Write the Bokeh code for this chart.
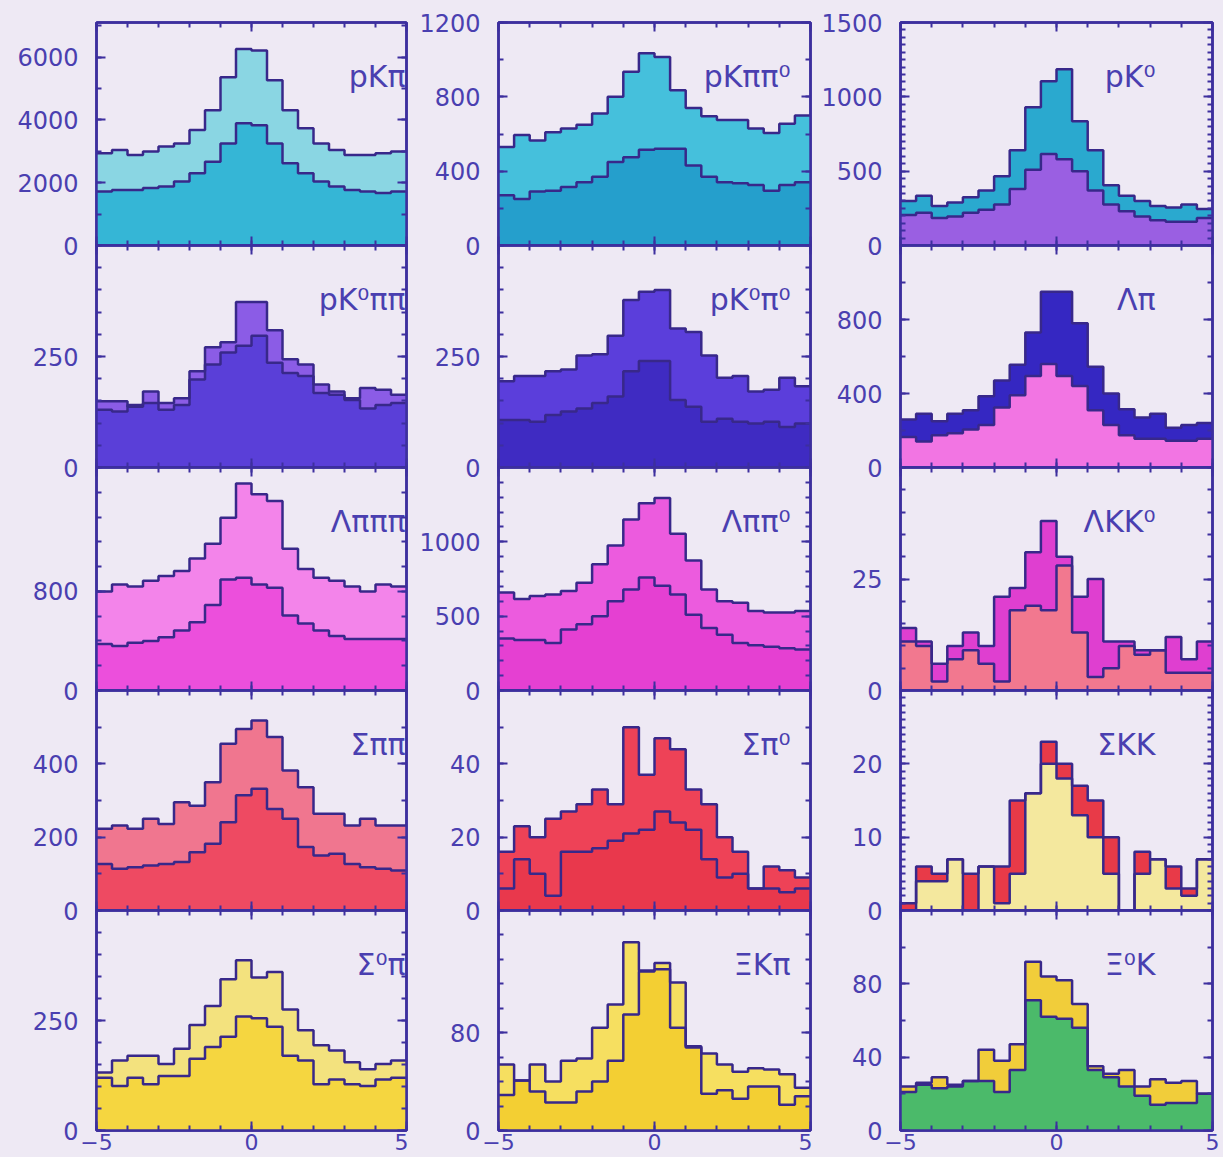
import numpy as np
from bokeh.plotting import figure
from bokeh.layouts import row, column
from bokeh.models import Range1d, LinearAxis, FixedTicker
from bokeh.core.properties import value
from bokeh.embed import file_html
from bokeh.resources import INLINE

# ---------------- data ----------------
bin_edges = np.linspace(-5, 5, 21)
x_major = [-5, 0, 5]
x_minor = list(range(-5, 6))

labels = [["pKπ", "pKππ⁰", "pK⁰"],
          ["pK⁰ππ", "pK⁰π⁰", "Λπ"],
          ["Λπππ", "Λππ⁰", "ΛKK⁰"],
          ["Σππ", "Σπ⁰", "ΣKK"],
          ["Σ⁰π", "ΞKπ", "Ξ⁰K"]]

pkpi_total = [2940, 3040, 2880, 2990, 3150, 3250, 3680, 4310, 5360, 6260, 6210, 5260, 4310, 3730, 3250, 3040, 2880, 2880, 2940, 2990]
pkpi_sub = [1720, 1770, 1770, 1830, 1880, 2040, 2300, 2670, 3250, 3890, 3830, 3250, 2620, 2300, 2040, 1880, 1770, 1720, 1670, 1720]

pkpipi0_total = [530, 595, 565, 610, 630, 650, 710, 800, 935, 1035, 1015, 835, 740, 695, 675, 675, 630, 605, 655, 700]
pkpipi0_sub = [270, 250, 290, 295, 315, 340, 370, 450, 475, 515, 520, 520, 430, 370, 340, 335, 325, 295, 325, 340]

pk0_total = [300, 335, 265, 290, 325, 370, 465, 640, 930, 1105, 1185, 835, 640, 405, 335, 300, 265, 255, 275, 245]
pk0_sub = [205, 220, 185, 195, 220, 240, 275, 380, 510, 615, 580, 500, 370, 275, 230, 195, 170, 160, 160, 185]

pk0pipi_total = [149, 149, 137, 171, 145, 156, 217, 271, 282, 373, 373, 309, 244, 232, 187, 171, 156, 179, 175, 164]
pk0pipi_sub = [130, 126, 141, 145, 130, 141, 198, 232, 259, 274, 297, 236, 213, 206, 168, 164, 152, 133, 141, 145]

pk0pi0_total = [194, 206, 206, 217, 221, 252, 255, 297, 377, 396, 400, 313, 305, 252, 202, 206, 171, 175, 202, 183]
pk0pi0_sub = [107, 107, 103, 118, 126, 133, 145, 160, 217, 240, 240, 152, 137, 103, 110, 103, 99, 103, 91, 99]

lampi_total = [260, 290, 250, 290, 310, 385, 470, 555, 730, 950, 950, 780, 545, 400, 315, 270, 290, 215, 230, 240]
lampi_sub = [165, 140, 175, 185, 205, 230, 325, 390, 495, 560, 495, 440, 310, 230, 175, 155, 155, 145, 145, 155]

lampipipi_total = [800, 855, 840, 885, 925, 965, 1065, 1185, 1395, 1670, 1585, 1530, 1145, 980, 910, 885, 840, 800, 855, 840]
lampipipi_sub = [375, 360, 385, 400, 430, 485, 550, 690, 895, 910, 855, 830, 605, 540, 485, 440, 415, 415, 415, 415]

lampipi0_total = [660, 615, 635, 645, 670, 725, 850, 975, 1150, 1260, 1295, 1055, 875, 680, 600, 590, 535, 525, 525, 535]
lampipi0_sub = [350, 340, 340, 320, 410, 445, 500, 600, 680, 760, 705, 645, 510, 420, 375, 320, 305, 295, 285, 275]

lamkk0_total = [14, 11, 6, 10, 13, 10, 21, 23, 31, 38, 30, 21, 25, 11, 11, 9, 9, 12, 7, 11]
lamkk0_sub = [11, 10, 2, 7, 9, 6, 2, 18, 19, 18, 28, 13, 3, 5, 10, 8, 9, 4, 4, 4]

sigpipi_total = [223, 232, 223, 250, 236, 295, 286, 350, 455, 495, 518, 473, 382, 336, 264, 264, 232, 250, 232, 232]
sigpipi_sub = [127, 114, 118, 123, 127, 132, 159, 182, 241, 314, 332, 277, 250, 173, 150, 155, 127, 118, 114, 109]

sigpi0_total = [16, 23, 20, 25, 27, 29, 33, 29, 50, 37, 47, 44, 33, 29, 20, 16, 6, 12, 11, 9]
sigpi0_sub = [6, 14, 10, 4, 16, 16, 17, 19, 21, 22, 27, 24, 22, 14, 9, 10, 6, 6, 5, 6]

sigkk_total = [1, 6, 5, 7, 5, 6, 6, 15, 16, 23, 20, 17, 15, 10, 0, 8, 7, 6, 3, 7]
sigkk_sub = [0, 4, 4, 7, 0, 6, 1, 5, 16, 20, 18, 13, 10, 5, 0, 5, 7, 3, 2, 7]

sig0pi_total = [132, 159, 170, 170, 151, 186, 240, 283, 344, 387, 348, 360, 275, 228, 194, 182, 155, 139, 151, 159]
sig0pi_sub = [120, 101, 120, 105, 124, 124, 163, 190, 213, 259, 255, 236, 170, 159, 105, 116, 105, 101, 116, 120]

xikpi_total = [54, 41, 54, 40, 57, 59, 84, 103, 154, 131, 137, 121, 69, 63, 54, 48, 51, 50, 46, 35]
xikpi_sub = [29, 41, 32, 23, 23, 32, 40, 57, 95, 130, 132, 84, 68, 30, 33, 26, 36, 36, 21, 28]

xi0k_total = [24, 26, 29, 25, 27, 44, 38, 47, 92, 84, 82, 69, 35, 31, 33, 24, 28, 26, 27, 20]
xi0k_sub = [21, 25, 23, 24, 27, 27, 21, 33, 71, 62, 61, 56, 33, 29, 24, 19, 14, 15, 15, 20]

series = [[(pkpi_total, pkpi_sub), (pkpipi0_total, pkpipi0_sub), (pk0_total, pk0_sub)],
          [(pk0pipi_total, pk0pipi_sub), (pk0pi0_total, pk0pi0_sub), (lampi_total, lampi_sub)],
          [(lampipipi_total, lampipipi_sub), (lampipi0_total, lampipi0_sub), (lamkk0_total, lamkk0_sub)],
          [(sigpipi_total, sigpipi_sub), (sigpi0_total, sigpi0_sub), (sigkk_total, sigkk_sub)],
          [(sig0pi_total, sig0pi_sub), (xikpi_total, xikpi_sub), (xi0k_total, xi0k_sub)]]

y_max = [[7100, 1200, 1500], [500, 500, 1200], [1800, 1500, 50], [600, 60, 30], [500, 180, 120]]
y_tick_labels = [[[0, 2000, 4000, 6000], [0, 400, 800, 1200], [0, 500, 1000, 1500]],
                 [[0, 250], [0, 250], [0, 400, 800]],
                 [[0, 800], [0, 500, 1000], [0, 25]],
                 [[0, 200, 400], [0, 20, 40], [0, 10, 20]],
                 [[0, 250], [0, 80], [0, 40, 80]]]
y_minor_step = [[1000, 200, 50], [50, 50, 200], [200, 100, 5], [100, 10, 1], [50, 20, 20]]

# ---------------- style ----------------
BG = "#eee9f4"
FRAME = "#3d2f9e"
EDGE = "#38288a"
TXT = "#4a3fb0"

colors = [[("#8ad6e3", "#35b6d6"), ("#45c0dc", "#259fcc"), ("#2aa9cf", "#9a5fe2")],
          [("#8b5ce6", "#5a3fd8"), ("#5b3edb", "#3f2bc2"), ("#3527c2", "#f275e3")],
          [("#f384ea", "#ec4fdc"), ("#ec5bde", "#e540d2"), ("#df3fd0", "#f2788f")],
          [("#f0768f", "#ee4a62"), ("#ee4257", "#e9384c"), ("#e83a48", "#f4e89e")],
          [("#f3e27e", "#f5d640"), ("#f6df60", "#f3cf33"), ("#f1cd3a", "#4bba6a")]]

col_left = [96, 90, 88]
col_frame = [310, 312, 312]
col_right = [2, 2, 11]
row_top = [22, 2, 2, 2, 2]
row_frame = [223, 222, 223, 220, 220]
row_bottom = [14, 14, 14, 14, 27]
row_margin = [0, -16, -16, -16, -16]
label_dx = [-1, -20, -57]


def style_axis(ax, ticker, show, standoff=0, size="24px"):
    ax.ticker = ticker
    ax.axis_line_color = FRAME
    ax.axis_line_width = 2.5
    ax.major_tick_line_color = FRAME
    ax.minor_tick_line_color = FRAME
    ax.major_tick_line_width = 2
    ax.minor_tick_line_width = 2
    ax.major_tick_in = 9
    ax.major_tick_out = 0
    ax.minor_tick_in = 5
    ax.minor_tick_out = 0
    if show:
        ax.major_label_text_font = "DejaVu Sans"
        ax.major_label_text_font_size = size
        ax.major_label_text_color = TXT
        ax.major_label_standoff = standoff
    else:
        ax.major_label_text_color = None
        ax.major_label_standoff = 0


def make_panel(r, c):
    ymax = y_max[r][c]
    step = y_minor_step[r][c]
    p = figure(width=col_left[c] + col_frame[c] + col_right[c],
               height=row_top[r] + row_frame[r] + row_bottom[r],
               x_range=Range1d(-5, 5), y_range=Range1d(0, ymax),
               output_backend="svg", toolbar_location=None,
               min_border_left=col_left[c], min_border_right=col_right[c],
               min_border_top=row_top[r], min_border_bottom=row_bottom[r])
    p.border_fill_color = None
    p.background_fill_color = BG
    p.outline_line_color = FRAME
    p.outline_line_width = 2.5
    p.xgrid.visible = False
    p.ygrid.visible = False

    minor = list(np.arange(0, ymax + step / 2, step))
    yt = FixedTicker(ticks=y_tick_labels[r][c], minor_ticks=minor)
    xt = FixedTicker(ticks=x_major, minor_ticks=x_minor)

    style_axis(p.yaxis[0], yt, True, standoff=18)
    style_axis(p.xaxis[0], xt, r == 4, standoff=3, size="22px")
    ax_r = LinearAxis()
    style_axis(ax_r, FixedTicker(ticks=y_tick_labels[r][c], minor_ticks=minor), False)
    p.add_layout(ax_r, "right")
    ax_t = LinearAxis()
    style_axis(ax_t, FixedTicker(ticks=x_major, minor_ticks=x_minor), False)
    p.add_layout(ax_t, "above")

    total, sub = series[r][c]
    c_out, c_in = colors[r][c]
    tot_ext = list(total) + [total[-1]]
    sub_ext = list(sub) + [sub[-1]]
    p.varea_step(x=bin_edges, y1=0, y2=tot_ext, step_mode="after", fill_color=c_out)
    p.varea_step(x=bin_edges, y1=0, y2=sub_ext, step_mode="after", fill_color=c_in)
    p.step(x=bin_edges, y=tot_ext, mode="after", line_color=EDGE, line_width=2.5)
    p.step(x=bin_edges, y=sub_ext, mode="after", line_color=EDGE, line_width=2.5)

    p.text(x=[5], y=[ymax], text=[labels[r][c]], x_offset=label_dx[c], y_offset=36,
           text_font=value("DejaVu Sans"), text_font_size="30px", text_color=TXT,
           text_align="right", text_baseline="top")
    return p


rows = []
for r in range(5):
    figs = [make_panel(r, c) for c in range(3)]
    rows.append(row(*figs, spacing=0, margin=(row_margin[r], 0, 0, 0)))

layout = column(*rows, spacing=0, styles={"background-color": BG})

open("out.html", "w").write(file_html(layout, INLINE))
